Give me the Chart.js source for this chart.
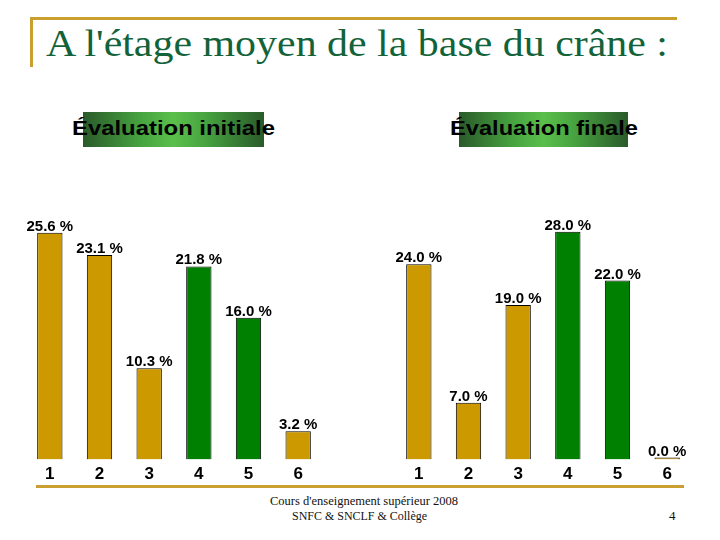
<!DOCTYPE html>
<html>
<head>
<meta charset="utf-8">
<script src="https://cdn.jsdelivr.net/npm/chart.js@4"></script>
<style>
  html, body { margin: 0; padding: 0; background: #fff; }
  #page { position: relative; width: 720px; height: 540px; overflow: hidden; }
  .abs { position: absolute; }
  .fit { display: inline-block; white-space: nowrap; transform-origin: 0 0; }
  #title { left: 46px; top: 20px; font: 38px "Liberation Serif", "Times New Roman", serif; color: #13633a; line-height: 46px; }
  .tag { font: bold 20px "Liberation Sans", Arial, sans-serif; color: #000; line-height: 24px; }
  .box { background: linear-gradient(to right, #2a5a2a 0%, #47a340 32%, #5bbf4b 50%, #47a340 68%, #2a5a2a 100%); }
  .foot { font: 12px "Liberation Serif", "Times New Roman", serif; color: #111; line-height: 15px; }
  .chartBox { top: 200px; width: 360px; height: 290px; }
</style>
</head>
<body>
<div id="page">
  <div class="abs" style="left:30px;top:17px;width:647px;height:3px;background:#c9a030"></div>
  <div class="abs" style="left:30px;top:17px;width:3px;height:50px;background:#c9a030"></div>
  <div id="title" class="abs"><span class="fit" data-w="622">A l'étage moyen de la base du crâne :</span></div>

  <div class="abs box" style="left:83px;top:112px;width:181px;height:35px"></div>
  <div class="abs tag" style="left:72px;top:116px"><span class="fit" data-w="203">Évaluation initiale</span></div>
  <div class="abs box" style="left:459px;top:112px;width:169px;height:35px"></div>
  <div class="abs tag" style="left:450px;top:116px"><span class="fit" data-w="188">Évaluation finale</span></div>

  <div class="abs chartBox" style="left:0px"><canvas id="c1"></canvas></div>
  <div class="abs chartBox" style="left:360px"><canvas id="c2"></canvas></div>
  <div class="abs" style="left:36px;top:485px;width:648px;height:3px;background:#c9a030"></div>

  <div class="abs foot" style="left:270px;top:494px"><span class="fit" data-w="188">Cours d'enseignement supérieur 2008</span></div>
  <div class="abs foot" style="left:292px;top:509px"><span class="fit" data-w="135">SNFC &amp; SNCLF &amp; Collège</span></div>
  <div class="abs foot" style="left:669px;top:508px;font-size:13px">4</div>
</div>
<script>
'use strict'

/* global Chart */

const categories = ['1', '2', '3', '4', '5', '6']
const initialValues = [25.6, 23.1, 10.3, 21.8, 16.0, 3.2]
const finalValues = [24.0, 7.0, 19.0, 28.0, 22.0, 0.0]
const gold = '#cc9900'
const green = '#008000'
const barColors = [gold, gold, gold, green, green, gold]

// squeeze / stretch the slide texts to the widths seen on the slide
for (const el of document.querySelectorAll('.fit')) {
  const w = el.getBoundingClientRect().width
  el.style.transform = 'scaleX(' + (Number(el.dataset.w) / w) + ')'
}

const valueLabels = {
  id: 'valueLabels',
  afterDatasetsDraw (chart) {
    const ctx = chart.ctx
    const meta = chart.getDatasetMeta(0)
    ctx.save()
    ctx.font = 'bold 15px "Liberation Sans", Arial, sans-serif'
    ctx.fillStyle = '#000'
    ctx.textAlign = 'center'
    ctx.textBaseline = 'alphabetic'
    meta.data.forEach((bar, i) => {
      const v = chart.data.datasets[0].data[i]
      ctx.fillText(v.toFixed(1) + ' %', bar.x, bar.y - 2)
    })
    ctx.restore()
  }
}

function makeChart (id, values, yMax, padLeft, padRight) {
  return new Chart(document.getElementById(id), {
    type: 'bar',
    data: {
      labels: categories,
      datasets: [{
        data: values,
        backgroundColor: barColors,
        borderColor: '#000',
        borderWidth: 1,
        minBarLength: 2,
        categoryPercentage: 1,
        barPercentage: 0.51
      }]
    },
    options: {
      responsive: false,
      animation: false,
      maintainAspectRatio: false,
      layout: { padding: { left: padLeft, right: padRight, top: 0, bottom: 0 } },
      plugins: { legend: { display: false }, tooltip: { enabled: false } },
      scales: {
        y: { display: false, min: 0, max: yMax },
        x: {
          grid: { display: false, drawTicks: false },
          border: { display: false },
          ticks: {
            color: '#000',
            padding: 5,
            font: { family: '"Liberation Sans", Arial, sans-serif', size: 17, weight: 'bold' }
          }
        }
      }
    },
    plugins: [valueLabels]
  })
}

for (const c of ['c1', 'c2']) {
  const el = document.getElementById(c)
  el.width = 360
  el.height = 290
}

makeChart('c1', initialValues, 29.3, 25, 37)
makeChart('c2', finalValues, 31.9, 34, 28)
</script>
</body>
</html>
